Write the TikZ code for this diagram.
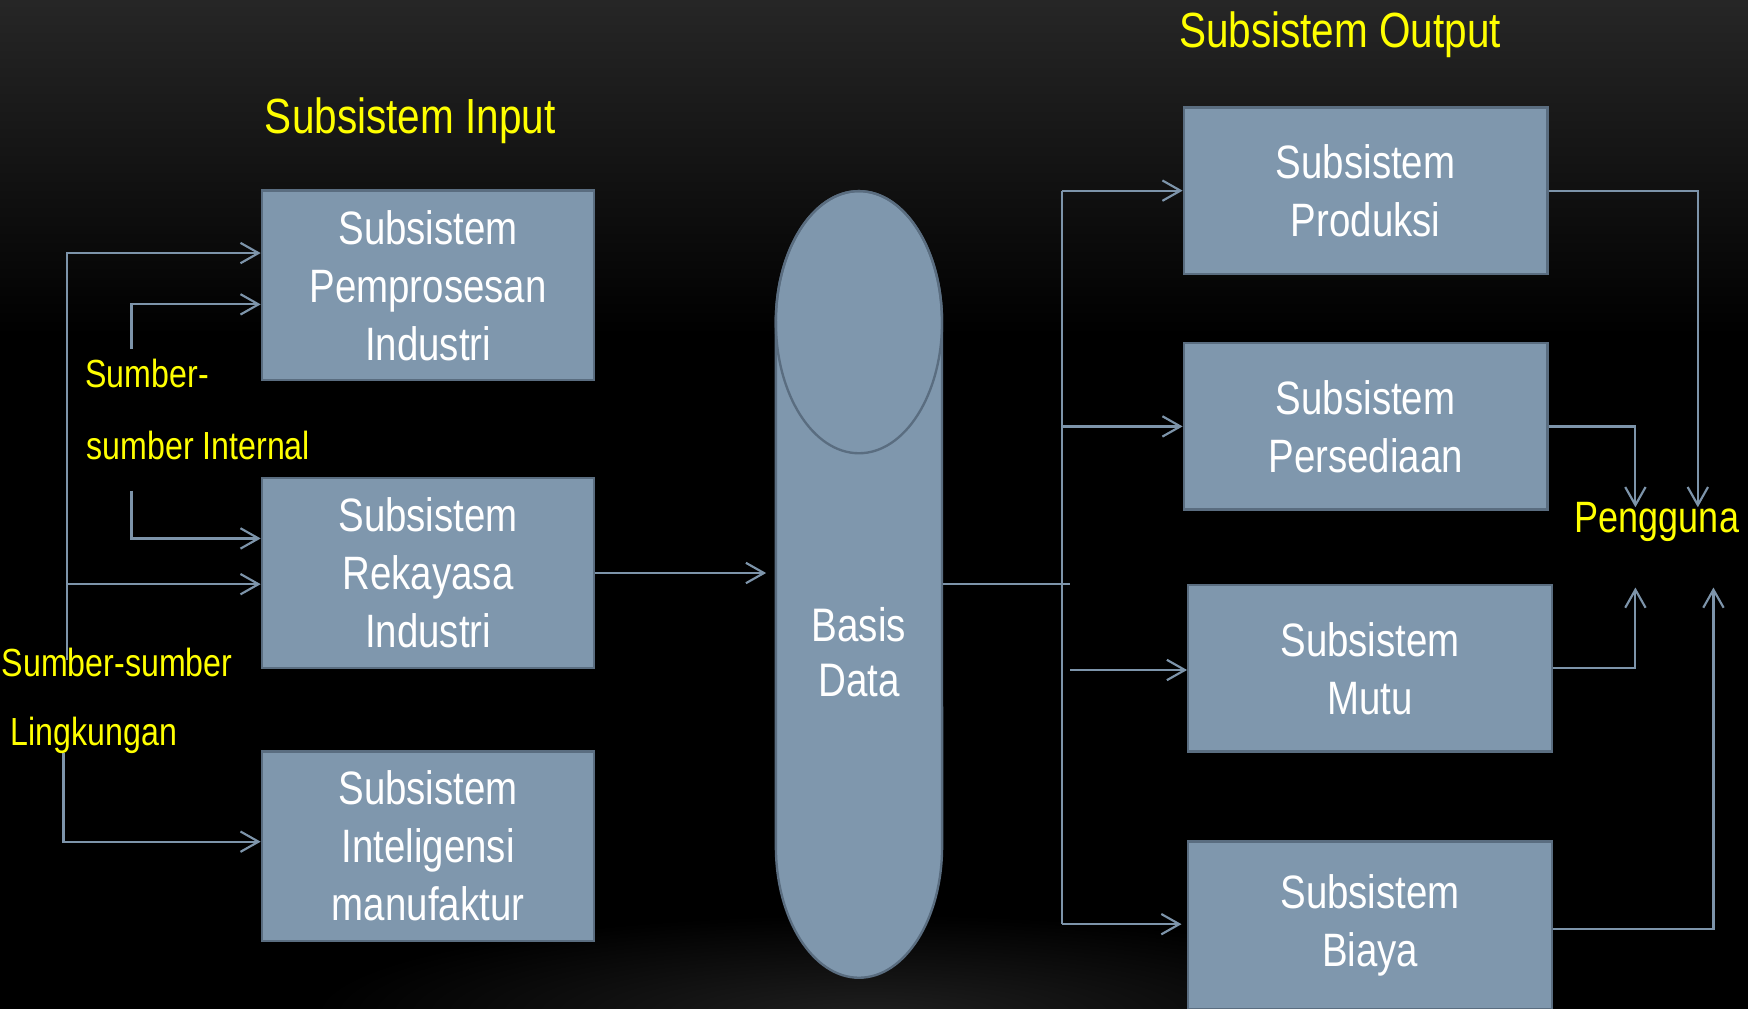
\documentclass[tikz,border=0pt]{standalone}
\usepackage{fontspec}
\setmainfont[FakeStretch=0.82]{Liberation Sans}
\usetikzlibrary{arrows.meta}
\definecolor{boxfill}{HTML}{7F97AD}
\definecolor{boxedge}{HTML}{5A6D80}
\definecolor{wire}{HTML}{7D94AA}
\definecolor{hilite}{HTML}{FFFF00}
\begin{document}
\begin{tikzpicture}[x=0.01cm,y=-0.01cm,
  sub/.style={draw=boxedge, fill=boxfill, line width=0.6pt, text=white,
    align=center, inner sep=0pt, font=\fontsize{11.95}{14.8}\selectfont},
  leftbox/.style={sub, minimum width=2.98cm, minimum height=1.70cm},
  rightbox/.style={sub, minimum width=3.26cm, minimum height=1.49cm},
  conn/.style={draw=wire, line width=0.55pt},
  arr/.style={conn, -{Straight Barb[length=4.6pt,width=5.2pt]}},
  lbl/.style={text=hilite, inner sep=0pt, anchor=base west},
  title/.style={lbl, font=\fontsize{12.6}{15}\selectfont},
  side/.style={lbl, font=\fontsize{10}{12}\selectfont}
]
% background
\useasboundingbox (0,0) rectangle (1568,905);
\fill[black] (0,0) rectangle (1568,905);
\shade[top color=black!85, bottom color=black] (0,0) rectangle (1568,300);
\begin{scope}
  \clip (0,0) rectangle (1568,905);
  \shade[inner color=black!88, outer color=black] (780,910) ellipse [x radius=5cm, y radius=0.9cm];
\end{scope}

% input subsystems
\node[leftbox] (b1) at (384,256) {Subsistem\\Pemprosesan\\Industri};
\node[leftbox] (b2) at (384,514) {Subsistem\\Rekayasa\\Industri};
\node[leftbox] (b3) at (384,759) {Subsistem\\Inteligensi\\manufaktur};

% database cylinder
\node[minimum width=1.49cm, minimum height=7.06cm, inner sep=0pt] (db) at (770.5,524) {};
\filldraw[fill=boxfill, draw=boxedge, line width=0.6pt]
  (696,289) -- (696,759.5)
  arc[start angle=180, end angle=360, x radius=0.745cm, y radius=1.175cm]
  -- (845,289)
  arc[start angle=0, end angle=180, x radius=0.745cm, y radius=1.175cm] -- cycle;
\draw[boxedge, line width=0.6pt] (770.5,289) ellipse [x radius=0.745cm, y radius=1.175cm];
\node[text=white, align=center, inner sep=0pt, font=\fontsize{12}{14.2}\selectfont] (dbtext) at (770.5,585) {Basis\\Data};

% output subsystems
\node[rightbox] (p1) at (1225,171) {Subsistem\\Produksi};
\node[rightbox] (p2) at (1225,382.5) {Subsistem\\Persediaan};
\node[rightbox] (p3) at (1229,599.5) {Subsistem\\Mutu};
\node[rightbox, minimum height=1.50cm] (p4) at (1229,830) {Subsistem\\Biaya};

% labels
\node[title] (tin) at (237,120) {Subsistem Input};
\node[title] (tout) at (1057,43) {Subsistem Output};
\node[side] (int1) at (76,348) {Sumber-};
\node[side] (int2) at (77,412) {sumber Internal};
\node[side] (env1) at (1,607) {Sumber-sumber};
\node[side] (env2) at (9,669) {Lingkungan};
\node[lbl, font=\fontsize{11.2}{13}\selectfont] (pg) at (1412,478) {Pengguna};

% input connectors
\coordinate (envA) at (60,592);
\coordinate (envB) at (60,524);
\coordinate (intA) at (118,313);
\coordinate (intB) at (118,440);
\coordinate (lingA) at (57,675);
\draw[arr] (envA) |- ([yshift=0.29cm]b1.west);
\draw[arr] (envB) -- (b2.west |- envB);
\draw[arr] (intA) |- ([yshift=-0.17cm]b1.west);
\draw[arr] (intB) |- ([yshift=0.31cm]b2.west);
\draw[arr] (lingA) |- ([yshift=0.04cm]b3.west);
\draw[arr, shorten >=0.08cm] (b2.east) -- (b2.east -| db.west);

% output connectors
\coordinate (busTop) at (953,171);
\coordinate (busBot) at (953,829);
\coordinate (dbout) at (960,524);
\coordinate (mutuIn) at (960,601);
\draw[conn] (db.east) -- (dbout);
\draw[conn] (busTop) -- (busBot);
\draw[arr] (busTop) -- (p1.west |- busTop);
\draw[arr] (busTop |- p2.west) -- (p2.west);
\draw[arr] (mutuIn) -- (p3.west |- mutuIn);
\draw[arr, shorten >=0.05cm] (busBot) -- (p4.west |- busBot);

% connectors to the users
\coordinate (pgA) at (1467,455);
\coordinate (pgB) at (1523,455);
\coordinate (pgC) at (1467,527);
\coordinate (pgD) at (1537,527);
\draw[arr] (p1.east) -| (pgB);
\draw[arr] (p2.east) -| (pgA);
\draw[arr] (p3.east) -| (pgC);
\draw[arr] ([yshift=-0.03cm]p4.east) -| (pgD);
\end{tikzpicture}
\end{document}
